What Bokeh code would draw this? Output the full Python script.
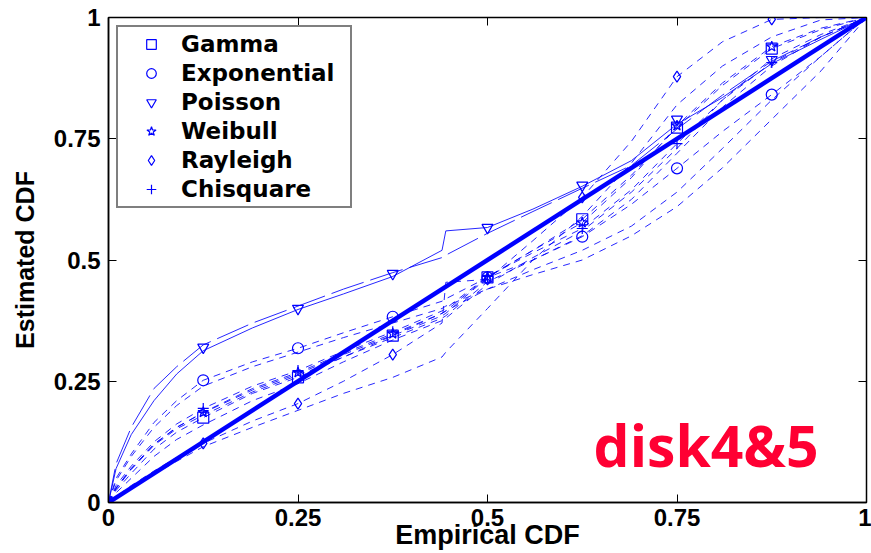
from bokeh.plotting import figure
from bokeh.models import LinearAxis, Legend, LegendItem, Label, FixedTicker
from bokeh.embed import file_html
from bokeh.resources import INLINE

# ---- data -------------------------------------------------------------
# empirical CDF of the sample points shown with markers
emp_cdf = [0.125, 0.25, 0.375, 0.5, 0.625, 0.75, 0.875]

# estimated CDF of each fitted distribution at those points
gamma_pts = [0.175, 0.258, 0.344, 0.464, 0.584, 0.773, 0.936]
exponential_pts = [0.252, 0.318, 0.383, 0.464, 0.548, 0.689, 0.841]
poisson_pts = [0.320, 0.400, 0.472, 0.567, 0.654, 0.790, 0.913]
weibull_pts = [0.186, 0.268, 0.348, 0.465, 0.577, 0.777, 0.940]
rayleigh_pts = [0.122, 0.204, 0.305, 0.460, 0.629, 0.878, 0.996]
chisquare_pts = [0.194, 0.272, 0.352, 0.466, 0.565, 0.740, 0.907]

# P-P curves: empirical CDF grid (with the jump near 0.44) and estimated CDF
curve_x = [0, 0.01, 0.03, 0.06, 0.09, 0.125, 0.19, 0.25, 0.31, 0.375, 0.44,
           0.445, 0.5, 0.56, 0.625, 0.69, 0.75, 0.81, 0.875, 0.94, 1.0]

poisson_disk4 = [0, 0.07, 0.14, 0.21, 0.265, 0.313, 0.36, 0.398, 0.43, 0.466, 0.52,
                 0.56, 0.567, 0.605, 0.652, 0.705, 0.78, 0.835, 0.905, 0.955, 1.0]
poisson_disk5 = [0, 0.08, 0.155, 0.235, 0.28, 0.325, 0.37, 0.405, 0.44, 0.474, 0.505,
                 0.51, 0.555, 0.60, 0.648, 0.695, 0.77, 0.84, 0.91, 0.96, 1.0]

gamma_disk4 = [0, 0.025, 0.06, 0.11, 0.145, 0.175, 0.225, 0.258, 0.30, 0.344, 0.385,
               0.39, 0.464, 0.52, 0.584, 0.675, 0.773, 0.86, 0.936, 0.975, 1.0]
gamma_disk5 = [0, 0.02, 0.05, 0.095, 0.13, 0.16, 0.21, 0.245, 0.29, 0.335, 0.375,
               0.38, 0.45, 0.505, 0.56, 0.64, 0.73, 0.83, 0.915, 0.965, 1.0]

weibull_disk4 = [0, 0.03, 0.07, 0.12, 0.155, 0.186, 0.235, 0.268, 0.308, 0.348, 0.39,
                 0.395, 0.465, 0.52, 0.577, 0.67, 0.777, 0.865, 0.94, 0.978, 1.0]
weibull_disk5 = [0, 0.028, 0.068, 0.118, 0.152, 0.18, 0.228, 0.262, 0.30, 0.34, 0.38,
                 0.385, 0.455, 0.50, 0.55, 0.625, 0.72, 0.815, 0.90, 0.96, 1.0]

chisquare_disk4 = [0, 0.035, 0.075, 0.125, 0.162, 0.194, 0.24, 0.272, 0.312, 0.352, 0.395,
                   0.40, 0.466, 0.515, 0.565, 0.645, 0.74, 0.83, 0.907, 0.96, 1.0]
chisquare_disk5 = [0, 0.03, 0.07, 0.12, 0.155, 0.185, 0.232, 0.265, 0.305, 0.345, 0.39,
                   0.395, 0.44, 0.48, 0.52, 0.57, 0.64, 0.73, 0.83, 0.92, 1.0]

exponential_disk4 = [0, 0.05, 0.10, 0.165, 0.21, 0.252, 0.29, 0.318, 0.35, 0.383, 0.415,
                     0.42, 0.464, 0.50, 0.548, 0.615, 0.689, 0.765, 0.841, 0.92, 1.0]
exponential_disk5 = [0, 0.045, 0.095, 0.155, 0.20, 0.24, 0.28, 0.31, 0.34, 0.37, 0.40,
                     0.405, 0.44, 0.47, 0.50, 0.55, 0.61, 0.69, 0.79, 0.89, 1.0]

rayleigh_disk4 = [0, 0.012, 0.035, 0.065, 0.093, 0.122, 0.168, 0.204, 0.25, 0.305, 0.37,
                  0.454, 0.46, 0.54, 0.629, 0.745, 0.878, 0.95, 0.996, 1.0, 1.0]
rayleigh_disk5 = [0, 0.01, 0.03, 0.058, 0.085, 0.115, 0.155, 0.19, 0.225, 0.258, 0.30,
                  0.31, 0.40, 0.50, 0.59, 0.70, 0.82, 0.90, 0.96, 0.995, 1.0]

# perfect-fit reference line
ideal_x = [0, 1]
ideal_y = [0, 1]

tick_vals = [0, 0.25, 0.5, 0.75, 1]
tick_labels = ["0", "0.25", "0.5", "0.75", "1"]

BLUE = "#0000ff"
FONT = "Liberation Sans"

# ---- figure -----------------------------------------------------------
p = figure(width=871, height=553, x_range=(0, 1), y_range=(0, 1),
           output_backend="svg", toolbar_location=None,
           min_border_left=108, min_border_right=5,
           min_border_top=17, min_border_bottom=51)
p.grid.visible = False
p.outline_line_color = "black"
p.outline_line_width = 1.5
p.background_fill_color = "white"
p.border_fill_color = "white"

ticker = FixedTicker(ticks=tick_vals)
overrides = {v: t for v, t in zip(tick_vals, tick_labels)}

for ax in (p.xaxis[0], p.yaxis[0]):
    ax.ticker = ticker
    ax.major_label_overrides = overrides
    ax.major_tick_in = 8
    ax.major_tick_out = 0
    ax.minor_tick_line_color = None
    ax.major_tick_line_color = "black"
    ax.axis_line_color = "black"
    ax.axis_line_width = 1.5
    ax.major_label_text_font = FONT
    ax.major_label_text_font_style = "bold"
    ax.major_label_text_font_size = "24px"
    ax.major_label_text_color = "black"
    ax.axis_label_text_font = FONT
    ax.axis_label_text_font_style = "bold"
    ax.axis_label_text_color = "black"

p.xaxis.axis_label = "Empirical CDF"
p.yaxis.axis_label = "Estimated CDF"
p.xaxis.axis_label_text_font_size = "27px"
p.yaxis.axis_label_text_font_size = "25px"
p.xaxis.major_label_standoff = 6
p.xaxis.axis_label_standoff = -9
p.xaxis.axis_label_text_line_height = 0.6
p.yaxis.major_label_standoff = 8
p.yaxis.axis_label_standoff = 12

# tick marks on the top and right edges of the box
for side in ("above", "right"):
    ax = LinearAxis(ticker=ticker, major_tick_in=8, major_tick_out=0,
                    minor_tick_line_color=None, axis_line_color="black",
                    major_label_text_font_size="0px", major_label_standoff=0,
                    major_label_overrides={v: "" for v in tick_vals})
    p.add_layout(ax, side)

# ---- P-P curves -------------------------------------------------------
dash_curves = [gamma_disk4, gamma_disk5, weibull_disk4, weibull_disk5,
               chisquare_disk4, chisquare_disk5, exponential_disk4,
               exponential_disk5, rayleigh_disk4, rayleigh_disk5]
for ys in dash_curves:
    p.line(curve_x, ys, line_color=BLUE, line_width=1, line_alpha=0.85,
           line_dash="7 6")

p.line(curve_x, poisson_disk4, line_color=BLUE, line_width=1, line_alpha=0.85)
p.line(curve_x, poisson_disk5, line_color=BLUE, line_width=1, line_alpha=0.85,
       line_dash="34 7")

p.line(ideal_x, ideal_y, line_color=BLUE, line_width=4.5)

# ---- markers ----------------------------------------------------------
series = [("Gamma", gamma_pts, "square"),
          ("Exponential", exponential_pts, "circle"),
          ("Poisson", poisson_pts, "inverted_triangle"),
          ("Weibull", weibull_pts, "star"),
          ("Rayleigh", rayleigh_pts, "diamond"),
          ("Chisquare", chisquare_pts, "cross")]

items = []
for name, ys, marker in series:
    r = p.scatter(emp_cdf, ys, marker=marker, size=11, line_color=BLUE,
                  line_width=1.2, fill_color=None)
    items.append(LegendItem(label=name, renderers=[r]))

legend = Legend(items=items, location="top_left", margin=8, padding=4,
                spacing=3, glyph_width=58, glyph_height=24, label_standoff=1,
                label_width=165, label_height=24,
                label_text_font="DejaVu Sans", label_text_font_style="bold",
                label_text_font_size="23px",
                label_text_color="black",
                border_line_color="black", border_line_width=2,
                background_fill_color="white", background_fill_alpha=1.0)
p.add_layout(legend)

p.add_layout(Label(x=0.64, y=0.118, text="disk4&5", text_color="#ff0033",
                   text_font="Open Sans", text_font_style="bold",
                   text_font_size="57px", text_baseline="alphabetic"))

open("out.html", "w").write(file_html(p, INLINE))
